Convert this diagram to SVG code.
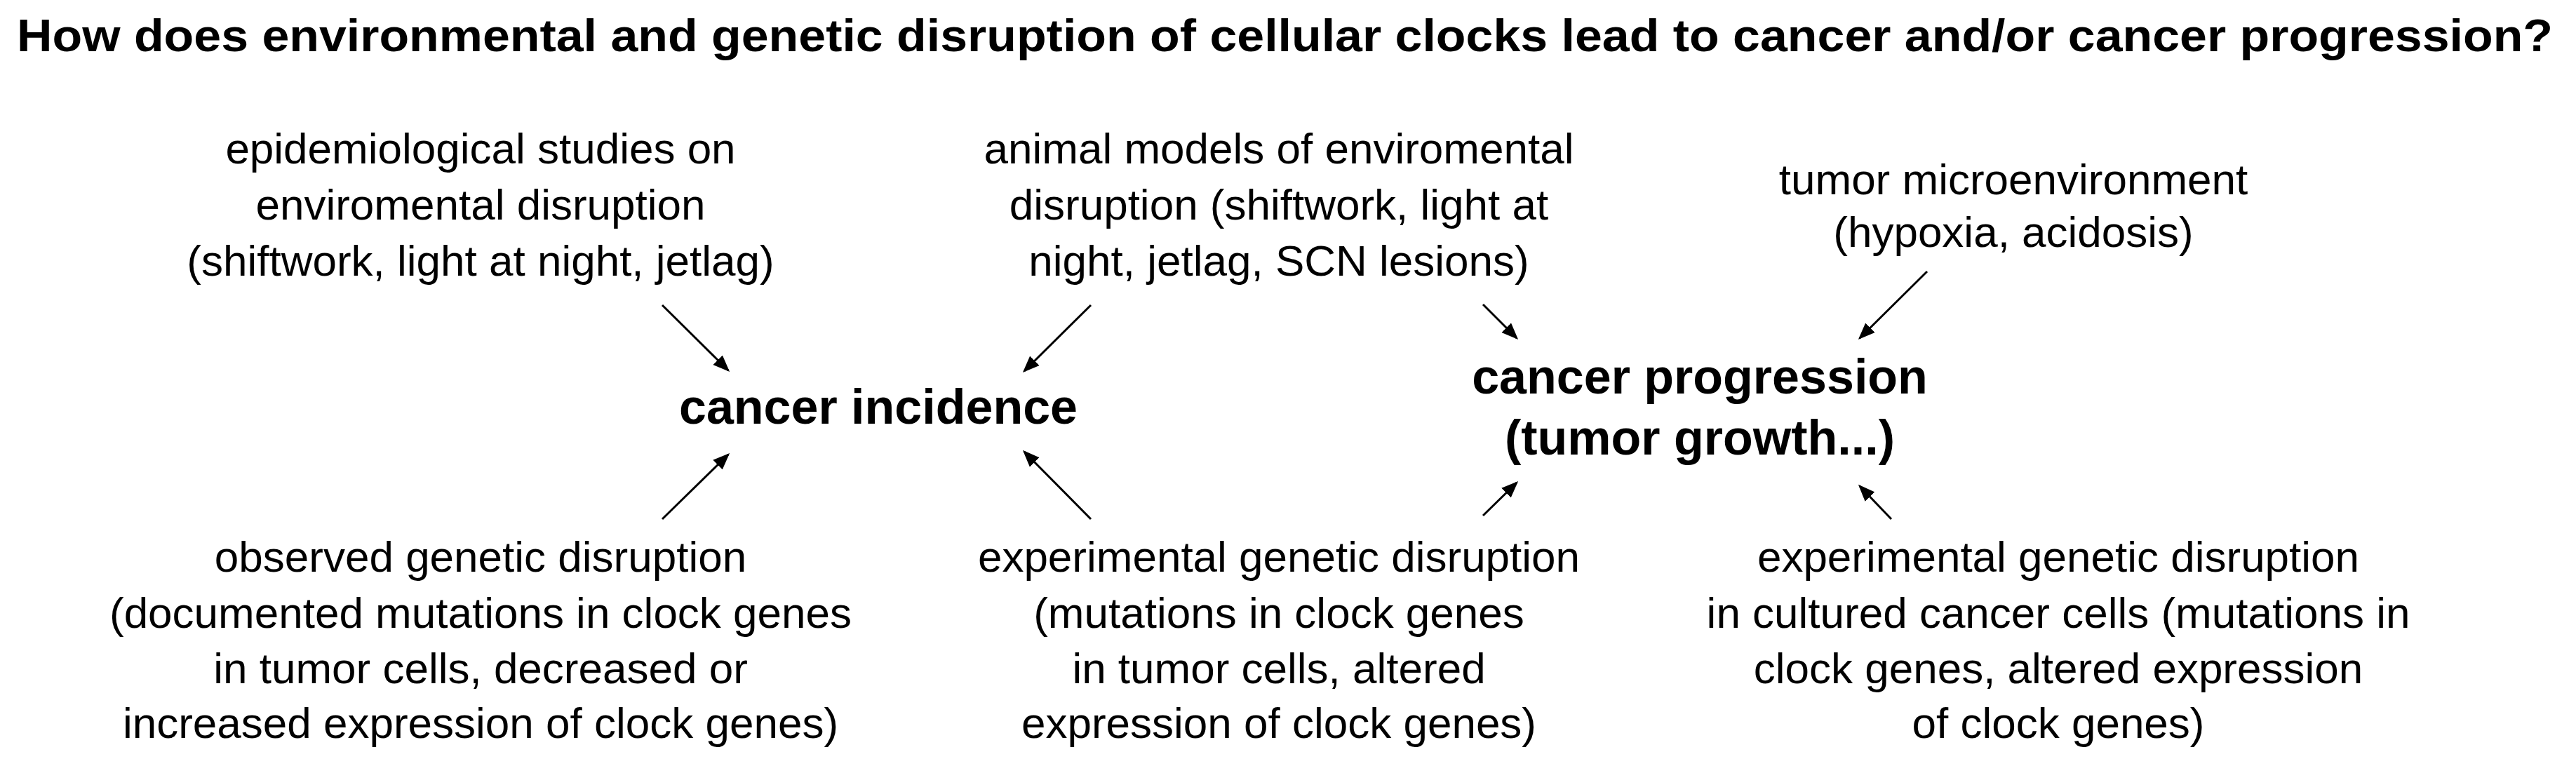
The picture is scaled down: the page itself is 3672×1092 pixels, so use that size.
<svg xmlns="http://www.w3.org/2000/svg" width="3672" height="1092" viewBox="0 0 3672 1092">
<style>
text{font-family:"Liberation Sans",Arial,sans-serif;fill:#000;text-anchor:middle}
.t{font-size:62px}
.b{font-size:70px;font-weight:bold}
.h{font-size:64px;font-weight:bold;text-anchor:start}
.c line{stroke:#000;stroke-width:3;marker-end:url(#a)}
</style>
<defs><marker id="a" markerWidth="8" markerHeight="8" refX="7" refY="4" orient="auto" markerUnits="strokeWidth"><path d="M0,0.8 L8,4 L0,7.2 z" fill="#000"/></marker></defs>
<rect width="3672" height="1092" fill="#fff"/>
<text class="h" x="24" y="73" textLength="3615" lengthAdjust="spacingAndGlyphs">How does environmental and genetic disruption of cellular clocks lead to cancer and/or cancer progression?</text>
<g id="n1"><text class="t" x="685" y="233">epidemiological studies on</text><text class="t" x="685" y="313">enviromental disruption</text><text class="t" x="685" y="393">(shiftwork, light at night, jetlag)</text></g>
<g id="n2"><text class="t" x="1823" y="233">animal models of enviromental</text><text class="t" x="1823" y="313">disruption (shiftwork, light at</text><text class="t" x="1823" y="393">night, jetlag, SCN lesions)</text></g>
<g id="n3"><text class="t" x="2870" y="277">tumor microenvironment</text><text class="t" x="2870" y="352">(hypoxia, acidosis)</text></g>
<g id="inc"><text class="b" x="1252" y="604">cancer incidence</text></g>
<g id="prog"><text class="b" x="2423" y="561">cancer progression</text><text class="b" x="2423" y="648">(tumor growth...)</text></g>
<g id="n4"><text class="t" x="685" y="815">observed genetic disruption</text><text class="t" x="685" y="895">(documented mutations in clock genes</text><text class="t" x="685" y="974">in tumor cells, decreased or</text><text class="t" x="685" y="1052">increased expression of clock genes)</text></g>
<g id="n5"><text class="t" x="1823" y="815">experimental genetic disruption</text><text class="t" x="1823" y="895">(mutations in clock genes</text><text class="t" x="1823" y="974">in tumor cells, altered</text><text class="t" x="1823" y="1052">expression of clock genes)</text></g>
<g id="n6"><text class="t" x="2934" y="815">experimental genetic disruption</text><text class="t" x="2934" y="895">in cultured cancer cells (mutations in</text><text class="t" x="2934" y="974">clock genes, altered expression</text><text class="t" x="2934" y="1052">of clock genes)</text></g>
<g class="c" id="connectors">
<line x1="944" y1="435" x2="1038" y2="528"/>
<line x1="1555" y1="435" x2="1460" y2="529"/>
<line x1="944" y1="740" x2="1038" y2="648"/>
<line x1="1555" y1="740" x2="1460" y2="644"/>
<line x1="2114" y1="735" x2="2162" y2="688"/>
<line x1="2114" y1="434" x2="2162" y2="482"/>
<line x1="2747" y1="387" x2="2651" y2="482"/>
<line x1="2696" y1="740" x2="2651" y2="693"/>
</g>
</svg>
